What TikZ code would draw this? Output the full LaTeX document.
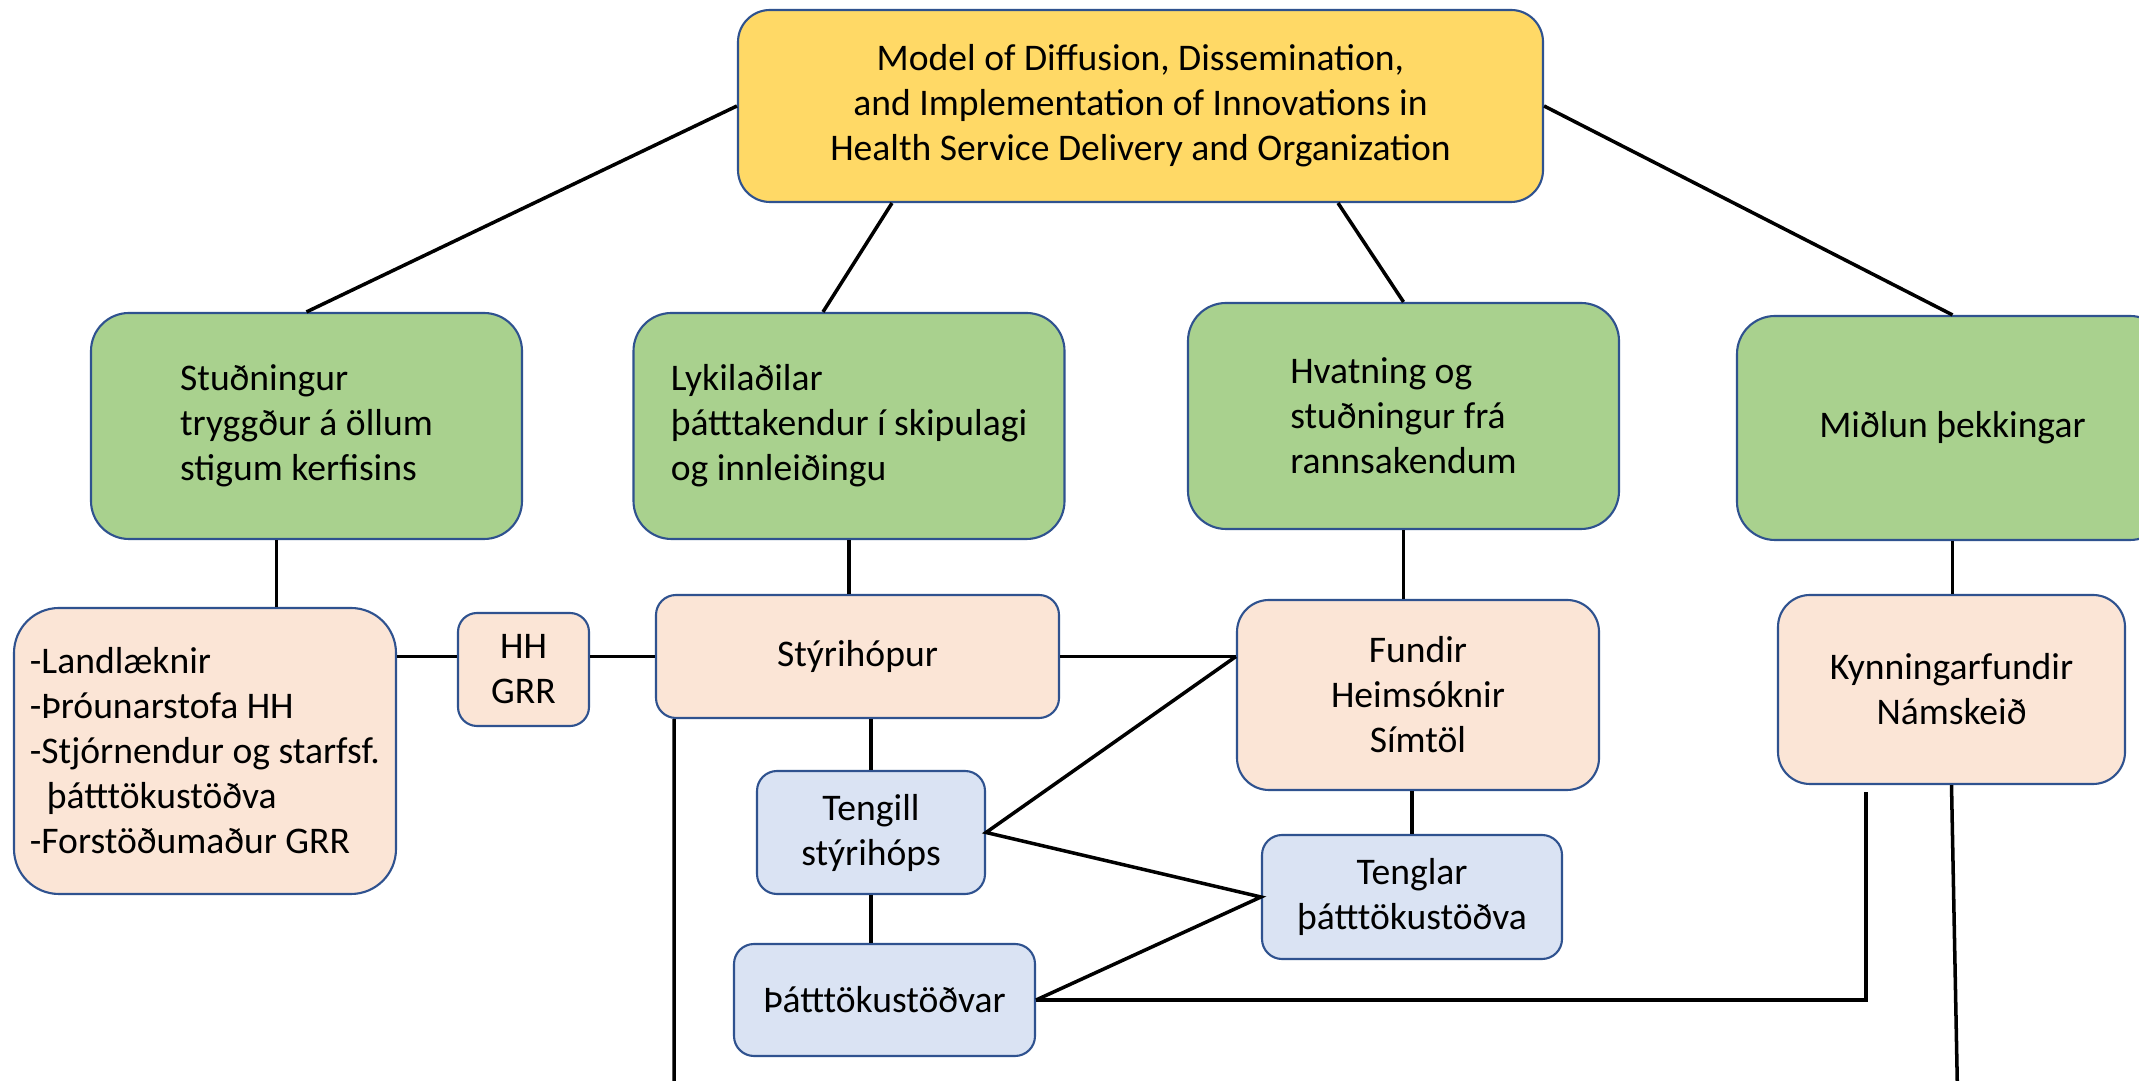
\documentclass[tikz,border=0pt]{standalone}
\usepackage{fontspec}
\setmainfont{Carlito}
\usetikzlibrary{calc,positioning}
\definecolor{bdr}{RGB}{47,82,143}
\definecolor{yel}{RGB}{255,217,102}
\definecolor{grnf}{RGB}{169,209,142}
\definecolor{pchf}{RGB}{251,229,214}
\definecolor{bluf}{RGB}{218,227,243}
\begin{document}
\begin{tikzpicture}[bx/.style={draw=bdr, line width=0.6pt, inner sep=0pt, align=center, font=\fontsize{10.7}{12.8}\selectfont},
mdl/.style={bx, fill=yel, rounded corners=0.32cm, minimum width=8.05cm, minimum height=1.92cm},
grn/.style={bx, fill=grnf, align=left, rounded corners=0.38cm, minimum width=4.31cm, minimum height=2.26cm},
pch/.style={bx, fill=pchf, rounded corners=0.3cm},
blu/.style={bx, fill=bluf, rounded corners=0.2cm},
ln/.style={line width=1pt}]
\useasboundingbox (0,0) rectangle (21.39,-10.81);
\fill[white] (0,0) rectangle (21.39,-10.81);
\node[mdl] (model) at (11.405,-1.06) {Model of Diffusion, Dissemination,\\and Implementation of Innovations in\\Health Service Delivery and Organization};
\node[grn] (grn1) at (3.065,-4.26) {Stuðningur\\tryggður á öllum\\stigum kerfisins};
\node[grn] (grn2) at (8.49,-4.26) {Lykilaðilar\\þátttakendur í skipulagi\\og innleiðingu};
\node[grn] (grn3) at (14.035,-4.16) {Hvatning og\\stuðningur frá\\rannsakendum};
\node[grn, minimum height=2.24cm] (grn4) at (19.525,-4.28) {Miðlun þekkingar};
\node[pch, align=left, minimum width=3.82cm, minimum height=2.86cm, rounded corners=0.45cm] (list) at (2.05,-7.51) {-Landlæknir\\-Þróunarstofa HH\\-Stjórnendur og starfsf.\\\hspace*{0.45em}þátttökustöðva\\-Forstöðumaður GRR};
\node[pch, minimum width=1.31cm, minimum height=1.13cm, rounded corners=0.19cm] (hh) at (5.235,-6.695) {HH\\GRR};
\node[pch, minimum width=4.03cm, minimum height=1.23cm, rounded corners=0.2cm] (styri) at (8.575,-6.565) {Stýrihópur};
\node[pch, minimum width=3.62cm, minimum height=1.9cm, rounded corners=0.32cm] (fundir) at (14.18,-6.95) {Fundir\\Heimsóknir\\Símtöl};
\node[pch, minimum width=3.47cm, minimum height=1.89cm, rounded corners=0.32cm] (kynn) at (19.515,-6.895) {Kynningarfundir\\Námskeið};
\node[blu, minimum width=2.28cm, minimum height=1.23cm] (tengill) at (8.71,-8.325) {Tengill\\stýrihóps};
\node[blu, minimum width=3.01cm, minimum height=1.12cm] (thatt) at (8.845,-10.0) {Þátttökustöðvar};
\node[blu, minimum width=3.0cm, minimum height=1.24cm] (tenglar) at (14.12,-8.97) {Tenglar\\þátttökustöðva};
%edges from the model box
\draw[ln] (model.west) -- (grn1.north);
\draw[ln] ([xshift=-2.485cm]model.south) -- ([xshift=-0.26cm]grn2.north);
\draw[ln] ([xshift=1.975cm]model.south) -- (grn3.north);
\draw[ln] (model.east) -- (grn4.north);
%edges down from the green boxes
\draw[ln] ([xshift=-3mm]grn1.south) -- ([xshift=-3mm]grn1.south |- list.north);
\foreach \a/\b in {grn2/styri,grn3/fundir,grn4/kynn}{\draw[ln] (\a.south) -- (\a.south |- \b.north);}
%the Stýrihópur row
\draw[ln] (list.east |- styri.west) -- (hh.west |- styri.west);
\draw[ln] (hh.east |- styri.west) -- (styri.west);
\coordinate (fj) at (styri.east -| fundir.west);
\draw[ln] (styri.east) -- (fj);
\draw[ln] (tengill.north |- styri.south) -- (tengill.north);
\draw[ln] (tengill.south) -- (tengill.south |- thatt.north);
\draw[ln] (tenglar.north |- fundir.south) -- (tenglar.north);
%links between the contacts
\draw[ln] (fj) -- (tengill.east) -- (tenglar.west) -- (thatt.east);
\draw[ln] (thatt.east) -| ([xshift=-8.55mm,yshift=-0.7mm]kynn.south);
%lines running off the bottom
\coordinate (s1) at (6.74,-11.2);
\coordinate (k1) at (19.58,-11.2);
\draw[ln] ([xshift=-18.35mm]styri.south) -- (s1);
\draw[ln] (kynn.south) -- (k1);
\end{tikzpicture}
\end{document}
